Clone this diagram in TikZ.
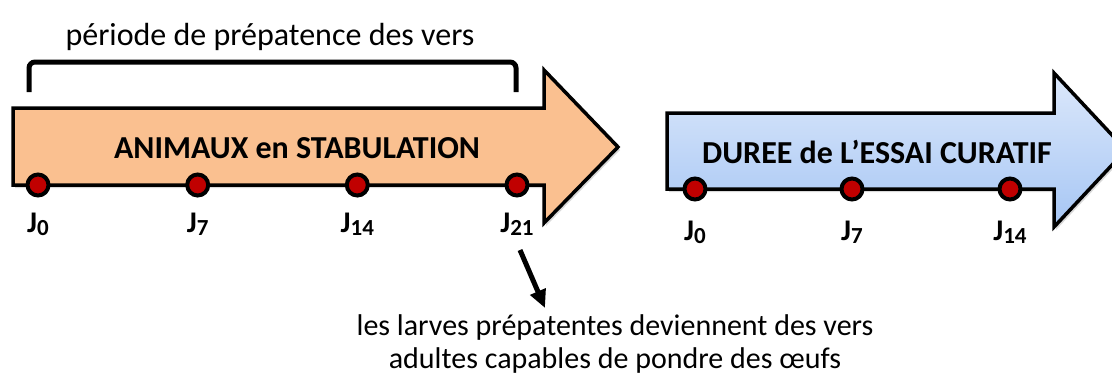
\documentclass[tikz,border=0pt]{standalone}
\usepackage{fontspec}
\setmainfont{Carlito}
\usetikzlibrary{arrows.meta, positioning, shadows}
\definecolor{stabfill}{HTML}{FAC090}
\definecolor{essaitop}{HTML}{DCE8FB}
\definecolor{essaibot}{HTML}{A6C6F4}
\definecolor{dayred}{HTML}{C00000}
\newcommand{\dayj}[1]{J\raisebox{-3.5pt}{\fontsize{23}{23}\selectfont #1}}

\begin{document}
\begin{tikzpicture}[x=1pt, y=-1pt,
    phase/.style={draw=black, line width=3.5pt, line join=miter,
                  drop shadow={shadow xshift=2pt, shadow yshift=-3pt, opacity=0.3}},
    daydot/.style={circle, draw=black, line width=4pt, fill=dayred,
                   minimum size=21pt, inner sep=0pt},
    daylbl/.style={font=\fontsize{30}{36}\selectfont\bfseries, anchor=base, inner sep=0pt},
    phasetitle/.style={font=\fontsize{32}{38}\selectfont\bfseries, anchor=base, inner sep=0pt},
    note/.style={font=\fontsize{30}{33}\selectfont, inner sep=0pt, align=center},
    brace/.style={line width=5pt, rounded corners=6pt},
    pointer/.style={-{Triangle[length=18pt,width=16pt]}, line width=5pt}]

    \useasboundingbox (0,0) rectangle (1112,376);

    % Stabulation - left arrow
    \draw[phase, fill=stabfill] (13,108) -- (544,108) -- (544,70) -- (618,147)
        -- (544,223) -- (544,185) -- (13,185) -- cycle;
    \node[phasetitle] (stab) at (297,158) {ANIMAUX en STABULATION};

    % Curative trial - right arrow
    \draw[phase, top color=essaitop, bottom color=essaibot] (667,113) -- (1054,113)
        -- (1054,73) -- (1126,150) -- (1054,227) -- (1054,189) -- (667,189) -- cycle;
    \node[phasetitle] (essai) at (877,163) {DUREE de L’ESSAI CURATIF};

    % Days on each arrow
    \foreach \d/\x in {0/38, 7/197.7, 14/357.3, 21/517} {
        \node[daydot] (s\d) at (\x,185) {};
        \node[daylbl] (ls\d) at ([yshift=-47pt]s\d) {\dayj{\d}};
    }
    \foreach \d/\x in {0/695, 7/852, 14/1010} {
        \node[daydot] (e\d) at (\x,189) {};
        \node[daylbl] (le\d) at ([yshift=-51pt]e\d) {\dayj{\d}};
    }

    % Prepatent period bracket
    \draw[brace] (29,92) -- (29,62) -- (516,62) -- (516,92);
    \node[note, font=\fontsize{32}{38}\selectfont, anchor=base] (prep) at (270,45)
        {période de prépatence des vers};

    % What happens after J21
    \node[note, anchor=base] (adult) at (615,368)
        {les larves prépatentes deviennent des vers\\adultes capables de pondre des œufs};
    \coordinate (ptrstart) at (520,250);
    \coordinate (ptrend) at (545,308);
    \draw[pointer] (ptrstart) -- (ptrend);
\end{tikzpicture}
\end{document}
